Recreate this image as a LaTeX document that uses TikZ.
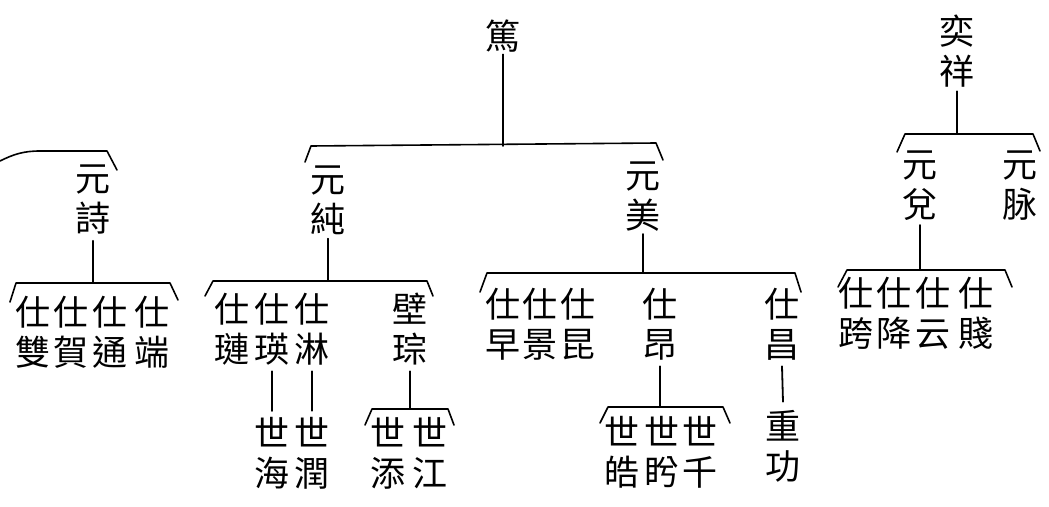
\documentclass[tikz,border=0pt]{standalone}
\usepackage{fontspec}
\newfontfamily\cjk{Noto Sans CJK TC}
\begin{document}
\begin{tikzpicture}[x=1pt,y=-1pt,
  person/.style={font=\cjk\fontsize{35}{40}\selectfont, align=center, inner sep=0pt},
  link/.style={line width=1.8pt, line cap=round},
  bar/.style={line width=1.6pt, line join=round, line cap=round}]
\useasboundingbox[fill=white] (0,0) rectangle (1049,506);

% generation 1
\node[person] (du) at (503,36) {篤};
\node[person] (yixiang) at (957,51) {奕\\祥};

% generation 2
\node[person] (yuanshi) at (93,200) {元\\詩};
\node[person] (yuanchun) at (328,200) {元\\純};
\node[person] (yuanmei) at (643,197) {元\\美};
\node[person] (yuandui) at (920,186) {元\\兌};
\node[person] (yuanmai) at (1020,186) {元\\脉};

% generation 3
\node[person] (shuang) at (33,332) {仕\\雙};
\node[person] (he) at (71,332) {仕\\賀};
\node[person] (tong) at (110,332) {仕\\通};
\node[person] (duan) at (152,332) {仕\\端};

\node[person] (lian) at (232,329) {仕\\璉};
\node[person] (ying) at (272,329) {仕\\瑛};
\node[person] (lin) at (312,329) {仕\\淋};
\node[person] (bicong) at (410,329) {壁\\琮};

\node[person] (zao) at (503,324) {仕\\早};
\node[person] (jing) at (540,324) {仕\\景};
\node[person] (kun) at (578,324) {仕\\昆};
\node[person] (ang) at (660,324) {仕\\昂};
\node[person] (chang) at (782,324) {仕\\昌};

\node[person] (kua) at (856,313) {仕\\跨};
\node[person] (jiang) at (894,313) {仕\\降};
\node[person] (yun) at (933,313) {仕\\云};
\node[person] (jian) at (976,313) {仕\\賤};

% generation 4
\node[person] (hai) at (272,453) {世\\海};
\node[person] (run) at (312,453) {世\\潤};
\node[person] (tian) at (388,453) {世\\添};
\node[person] (jiangs) at (430,453) {世\\江};
\node[person] (hao) at (622,452) {世\\皓};
\node[person] (xi) at (662,452) {世\\盻};
\node[person] (qian) at (700,452) {世\\千};
\node[person] (zhonggong) at (783,446) {重\\功};

% bracket bars (free ends)
\coordinate (mainL) at (311,146); \coordinate (mainR) at (656,143);
\coordinate (shiTL) at (40,151); \coordinate (shiTR) at (107,151);
\coordinate (shiL) at (16,283); \coordinate (shiR) at (170,283);
\coordinate (chunL) at (213,281); \coordinate (chunR) at (427,281);
\coordinate (meiL) at (487,273); \coordinate (meiR) at (795,273);
\coordinate (yxL) at (905,134); \coordinate (yxR) at (1033,134);
\coordinate (duiL) at (847,270); \coordinate (duiR) at (1005,270);
\coordinate (congL) at (372,409); \coordinate (congR) at (448,409);
\coordinate (angL) at (608,407); \coordinate (angR) at (723,407);

\draw[bar] (305,162) -- (mainL) -- (mainR) -- (663,160);
\draw[bar] (0,161) .. controls (14,154) and (24,151) .. (shiTL) -- (shiTR) -- (117,170);
\draw[bar] (10,302) -- (shiL) -- (shiR) -- (178,300);
\draw[bar] (205,296) -- (chunL) -- (chunR) -- (433,296);
\draw[bar] (480,292) -- (meiL) -- (meiR) -- (801,292);
\draw[bar] (897,152) -- (yxL) -- (yxR) -- (1040,151);
\draw[bar] (838,287) -- (duiL) -- (duiR) -- (1012,287);
\draw[bar] (365,425) -- (congL) -- (congR) -- (454,425);
\draw[bar] (600,423) -- (angL) -- (angR) -- (730,423);

% descent lines
\draw[link] ([yshift=-2pt]du.south) -- (du.south |- mainL);
\draw[link] ([yshift=-4pt]yixiang.south) -- (yixiang.south |- yxL);
\draw[link] ([yshift=-6pt]yuanshi.south) -- (yuanshi.south |- shiL);
\draw[link] ([yshift=-4pt]yuanchun.south) -- (yuanchun.south |- chunL);
\draw[link] ([yshift=-2pt]yuanmei.south) -- (yuanmei.south |- meiL);
\draw[link] ([yshift=-4pt]yuandui.south) -- (yuandui.south |- duiL);
\draw[link] ([yshift=-6pt]ying.south) -- ([yshift=6pt]hai.north);
\draw[link] ([yshift=-6pt]lin.south) -- ([yshift=6pt]run.north);
\draw[link] ([yshift=-6pt]bicong.south) -- (bicong.south |- congL);
\draw[link] ([yshift=-6pt]ang.south) -- (ang.south |- angL);
\draw[link] ([yshift=-6pt]chang.south) -- ([yshift=8pt]zhonggong.north);
\end{tikzpicture}
\end{document}
